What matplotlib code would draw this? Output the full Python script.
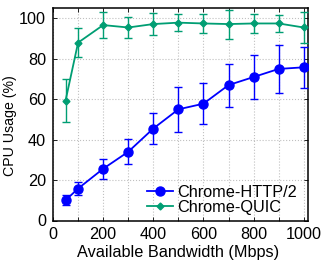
import matplotlib
matplotlib.use("Agg")
import matplotlib.pyplot as plt

plt.rcParams['font.family'] = ['Liberation Sans', 'DejaVu Sans']

bandwidth = [50, 100, 200, 300, 400, 500, 600, 700, 800, 900, 1000]
http2_mean = [10.0, 15.8, 25.6, 34.0, 45.5, 55.0, 57.8, 67.0, 71.0, 75.0, 75.8]
http2_err = [2.4, 3.2, 5.0, 6.1, 7.5, 11.2, 10.0, 10.6, 10.8, 11.7, 10.0]
quic_mean = [59.3, 88.0, 96.7, 95.5, 97.2, 97.9, 97.5, 97.2, 97.5, 97.5, 95.5]
quic_err = [10.5, 7.2, 6.4, 5.2, 5.5, 4.3, 4.8, 7.2, 4.8, 4.3, 7.7]

xticks = [0, 200, 400, 600, 800, 1000]
yticks = [0, 20, 40, 60, 80, 100]

W, H = 333, 271
fig = plt.figure(figsize=(W / 100, H / 100), dpi=100)
ax_l, ax_r, ax_t, ax_b = 53, 308, 8.3, 220.5
ax = fig.add_axes([ax_l / W, 1 - ax_b / H, (ax_r - ax_l) / W, (ax_b - ax_t) / H])

blue = '#0000ff'
green = '#009e73'
fs = 11.7

h1 = ax.errorbar(bandwidth, http2_mean, yerr=http2_err, color=blue, marker='o',
                 markersize=6.5, linewidth=1.3, elinewidth=1.0, capsize=3.2,
                 capthick=1.0, label='Chrome-HTTP/2', zorder=3)
h2 = ax.errorbar(bandwidth, quic_mean, yerr=quic_err, color=green, marker='D',
                 markersize=3.5, linewidth=1.3, elinewidth=1.0, capsize=3.2,
                 capthick=1.0, label='Chrome-QUIC', zorder=3)

ax.set_xlim(0, 1017)
ax.set_ylim(0, 105)
ax.set_xticks(xticks)
ax.set_xticks(range(100, 1001, 200), minor=True)
ax.set_yticks(yticks)
ax.tick_params(axis='both', which='both', direction='in', labelsize=fs,
               top=True, right=True, length=3, width=0.6)
ax.tick_params(axis='x', which='major', pad=5)
ax.tick_params(axis='y', which='major', pad=5)
ax.grid(True, which='both', linestyle=':', color='#c0c0c0', linewidth=0.8)
ax.set_axisbelow(True)
for s in ax.spines.values():
    s.set_linewidth(1.1)

ax.set_xlabel('Available Bandwidth (Mbps)', fontsize=fs)
ax.xaxis.set_label_coords((178 - ax_l) / (ax_r - ax_l), (ax_b - 253) / (ax_b - ax_t))
ax.xaxis.label.set_va('center')
ax.set_ylabel('CPU Usage (%)', fontsize=10.2)
ax.yaxis.set_label_coords((9.7 - ax_l) / (ax_r - ax_l), (ax_b - 126) / (ax_b - ax_t))
ax.yaxis.label.set_va('center')

leg = ax.legend([h1[0], h2[0]], ['Chrome-HTTP/2', 'Chrome-QUIC'],
                loc='lower left', frameon=False, fontsize=fs,
                handlelength=1.6, handletextpad=0.25, borderpad=0.0,
                borderaxespad=0.0, labelspacing=0.0,
                bbox_to_anchor=((147 - ax_l) / (ax_r - ax_l), 0.028))

fig.savefig('out.png', dpi=100)
